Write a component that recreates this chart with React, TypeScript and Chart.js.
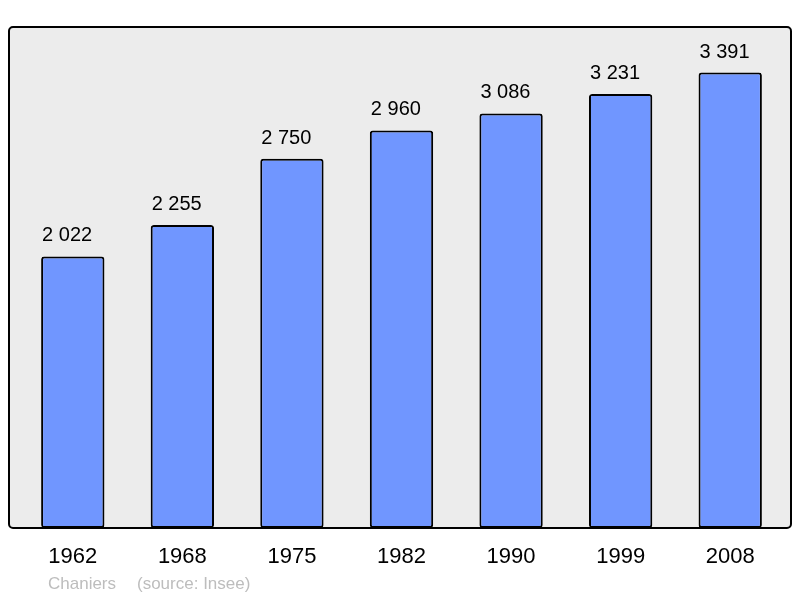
import React, { useEffect, useRef } from "react";
import { Chart, registerables } from "chart.js";

Chart.register(...registerables);

const years = ["1962", "1968", "1975", "1982", "1990", "1999", "2008"];
const population = [2022, 2255, 2750, 2960, 3086, 3231, 3391];
const footerPlace = "Chaniers";
const footerSource = "(source: Insee)";

const fmt = (v: number) => {
  const s = String(v);
  return s.replace(/\B(?=(\d{3})+(?!\d))/g, " ");
};

const FONT = "'Liberation Sans', Arial, sans-serif";

const framePlugin = {
  id: "frame",
  beforeDraw(chart: any) {
    const ctx = chart.ctx;
    ctx.save();
    ctx.fillStyle = "#ececec";
    ctx.beginPath();
    (ctx as any).roundRect(9, 27, 782, 501, 4);
    ctx.fill();
    ctx.restore();
  },
  afterDatasetsDraw(chart: any) {
    const ctx = chart.ctx;
    ctx.save();
    // value labels
    const meta = chart.getDatasetMeta(0);
    ctx.fillStyle = "#000";
    ctx.font = `20px ${FONT}`;
    ctx.textAlign = "left";
    ctx.textBaseline = "alphabetic";
    meta.data.forEach((bar: any, i: number) => {
      ctx.fillText(fmt(population[i]), bar.x - bar.width / 2 + 1, bar.y - 15);
    });
    // frame border
    ctx.strokeStyle = "#000";
    ctx.lineWidth = 2;
    ctx.beginPath();
    (ctx as any).roundRect(9, 27, 782, 501, 4);
    ctx.stroke();
    // footer
    ctx.fillStyle = "#bdbdbd";
    ctx.font = `17px ${FONT}`;
    ctx.textAlign = "left";
    ctx.fillText(footerPlace, 48, 589);
    ctx.fillText(footerSource, 137, 589);
    ctx.restore();
  },
};

export default function App() {
  const ref = useRef<HTMLCanvasElement>(null);
  useEffect(() => {
    document.body.style.margin = "0";
    const chart = new Chart(ref.current!, {
      type: "bar",
      data: {
        labels: years,
        datasets: [
          {
            data: population,
            backgroundColor: "#7096ff",
            borderColor: "#000",
            borderWidth: 2,
            borderRadius: 3,
            borderSkipped: false,
            barPercentage: 0.578,
            categoryPercentage: 1,
          },
        ],
      },
      options: {
        animation: false,
        responsive: false,
        layout: { padding: { left: 18, right: 15, top: 27, bottom: 0 } },
        plugins: {
          legend: { display: false },
          tooltip: { enabled: false },
        },
        scales: {
          x: {
            grid: { display: false, drawTicks: false },
            border: { display: false },
            ticks: {
              color: "#000",
              font: { family: FONT, size: 22 },
              padding: 16,
            },
            afterFit(scale: any) {
              scale.height = 70;
            },
          },
          y: {
            display: false,
            min: 0,
            max: 3730,
          },
        },
      },
      plugins: [framePlugin],
    });
    return () => chart.destroy();
  }, []);
  return (
    <div style={{ position: "absolute", left: 0, top: 0, width: 800, height: 598 }}>
      <canvas ref={ref} width={800} height={598} />
    </div>
  );
}
